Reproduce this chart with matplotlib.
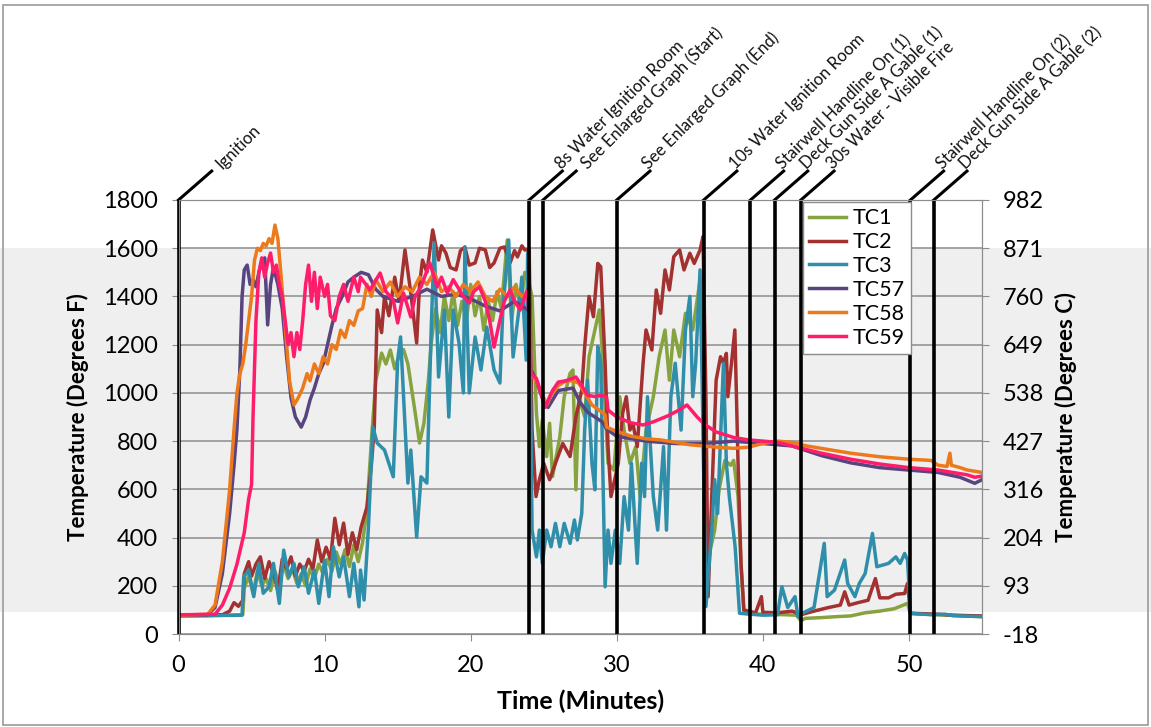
import matplotlib
matplotlib.use('Agg')
import matplotlib.pyplot as plt
import matplotlib.transforms as mtransforms
from matplotlib.patches import Rectangle

plt.rcParams['font.family'] = ['Lato', 'DejaVu Sans']

# ---- data (time in minutes, temperature in deg F) ----
t_tc1 = [0, 2, 4.4, 4.5, 4.8, 5.1, 5.4, 5.7, 6.0, 6.3, 6.6, 6.9, 7.2, 7.5, 7.8, 8.1, 8.4, 8.7, 9.0, 9.3,
         9.6, 9.9, 10.2, 10.5, 10.8, 11.1, 11.4, 11.7, 12.0, 12.3, 12.6, 12.9, 13.2, 13.5, 13.9, 14.2, 14.5,
         14.8, 15.0, 15.4, 15.7, 16.1, 16.5, 16.8, 17.1, 17.3, 17.6, 17.9, 18.2, 18.5, 18.8, 19.1, 19.4,
         19.7, 20.0, 20.3, 20.6, 20.9, 21.2, 21.5, 21.8, 22.1, 22.5, 22.8, 23.1, 23.4, 23.7, 24.0, 24.2,
         24.5, 24.7, 24.9, 25.2, 25.4, 25.6, 26.1, 26.4, 26.8, 27.0, 27.2, 27.4, 27.8, 28.1, 28.5, 28.8,
         29.0, 29.4, 29.8, 30.2, 30.5, 30.9, 31.3, 31.6, 32.0, 32.5, 32.9, 33.3, 33.6, 33.9, 34.3, 34.7,
         35.2, 35.7, 35.9, 36.0, 36.4, 36.7, 37.0, 37.4, 37.8, 38.0, 38.3, 38.5, 38.7, 40, 41.5, 42.3,
         42.6, 42.9, 44, 45, 46, 47, 48, 49, 49.9, 50.1, 52, 54, 55]
v_tc1 = [75, 76, 80, 190, 240, 170, 260, 200, 230, 180, 260, 200, 290, 230, 270, 210, 250, 200, 270, 230,
         290, 250, 310, 260, 340, 290, 350, 280, 370, 300, 380, 520, 800, 1050, 1165, 1120, 1178,
         1100, 1136, 1180, 1120, 958, 792, 875, 1050, 1207, 1350, 1250, 1400, 1300, 1420, 1280, 1380,
         1300, 1450, 1320, 1400, 1260, 1380, 1300, 1420, 1350, 1634, 1300, 1450, 1350, 1500, 1450, 1400,
         915, 777, 887, 736, 874, 653, 818, 984, 1081, 1095, 598, 984, 901, 1150, 1261, 1344,
         1178, 708, 680, 984, 846, 708, 777, 570, 846, 984, 1150, 1261, 1053, 1261, 1150, 1330,
         1261, 1468, 1053, 224, 350, 431, 600, 720, 700, 720, 570, 293, 86, 82, 80, 78,
         55, 65, 68, 72, 75, 88, 95, 105, 127, 85, 80, 75, 72]

t_tc2 = [0, 3.0, 3.5, 3.8, 4.1, 4.4, 4.5, 4.8, 5.0, 5.3, 5.6, 5.9, 6.2, 6.5, 6.8, 7.1, 7.4, 7.7, 8.0, 8.3,
         8.6, 8.9, 9.2, 9.5, 9.8, 10.1, 10.4, 10.7, 11.0, 11.3, 11.6, 11.9, 12.2, 12.5, 12.9, 13.2, 13.4,
         13.6, 13.9, 14.1, 14.4, 14.8, 15.1, 15.5, 15.9, 16.3, 16.5, 16.7, 17.0, 17.4, 17.8, 18.0, 18.3,
         18.6, 19.0, 19.3, 19.6, 19.9, 20.3, 20.6, 21.0, 21.3, 21.6, 22.0, 22.3, 22.7, 23.0, 23.2, 23.5,
         23.7, 24.0, 24.2, 24.47, 24.7, 25.0, 25.4, 25.8, 26.3, 26.8, 27.2, 27.6, 27.8, 28.1, 28.4, 28.7,
         28.9, 29.2, 29.4, 29.6, 30.1, 30.4, 30.65, 30.9, 31.1, 31.4, 31.8, 32.0, 32.4, 32.7, 33.0, 33.3,
         33.6, 33.9, 34.3, 34.6, 35.0, 35.3, 35.7, 35.9, 36.1, 36.25, 36.5, 36.8, 37.1, 37.3, 37.5, 37.6,
         37.85, 38.08, 38.3, 38.5, 38.7, 39.5, 39.9, 40.0, 41, 42, 42.6, 43.5, 44.5, 45.3, 45.6, 45.9,
         46.5, 47.2, 47.7, 48.0, 48.6, 49.1, 49.7, 49.9, 50.1, 52, 53, 55]
v_tc2 = [78, 80, 95, 130, 115, 140, 250, 300, 240, 290, 320, 230, 300, 250, 180, 310, 270, 320, 240, 290,
         260, 310, 270, 390, 300, 360, 310, 480, 370, 460, 330, 420, 350, 444, 527, 700, 858,
         1344, 1250, 1400, 1320, 1480, 1380, 1593, 1414, 1207, 1450, 1551, 1500, 1676, 1551, 1610, 1580,
         1520, 1510, 1590, 1605, 1530, 1539, 1600, 1593, 1520, 1539, 1600, 1605, 1540, 1590, 1564, 1610,
         1593, 1593, 846, 570, 640, 708, 640, 708, 790, 736, 900, 1011, 1191, 1400, 1316, 1537,
         1523, 1123, 777, 570, 708, 915, 984, 846, 874, 777, 1123, 1261, 1178, 1427, 1330, 1510,
         1427, 1565, 1593, 1510, 1579, 1537, 1593, 1648, 984, 155, 570, 1053, 1150, 1123, 1164, 984,
         1123, 1261, 708, 293, 100, 88, 155, 90, 88, 95, 80, 95, 110, 120, 175, 120,
         130, 140, 230, 150, 150, 165, 168, 210, 86, 82, 78, 75]

t_tc3 = [0, 4.35, 4.46, 4.8, 5.15, 5.5, 5.8, 6.2, 6.5, 6.9, 7.2, 7.55, 7.9, 8.2, 8.6, 8.9, 9.3, 9.6, 10.0,
         10.3, 10.6, 11.0, 11.3, 11.7, 12.0, 12.35, 12.46, 12.7, 13.0, 13.3, 13.6, 14.1, 14.7, 15.0, 15.2,
         15.7, 15.9, 16.3, 16.6, 17.0, 17.3, 17.5, 17.8, 18.2, 18.5, 18.8, 19.2, 19.5, 19.6, 19.9, 20.3,
         20.7, 21.1, 21.6, 22.0, 22.2, 22.6, 22.9, 23.3, 23.5, 23.8, 23.9, 24.1, 24.2, 24.5, 24.7, 24.9,
         25.2, 25.5, 25.8, 26.1, 26.4, 26.8, 27.1, 27.3, 27.6, 27.8, 28.0, 28.3, 28.5, 28.7, 28.9, 29.2,
         29.4, 29.6, 29.9, 30.2, 30.5, 30.8, 31.0, 31.2, 31.4, 31.7, 31.9, 32.1, 32.5, 32.8, 33.2, 33.4,
         33.7, 34.0, 34.4, 34.7, 35.0, 35.2, 35.4, 35.7, 35.9, 36.1, 36.5, 36.7, 36.9, 37.3, 37.5, 37.7,
         38.1, 38.4, 40.0, 41.0, 41.3, 41.7, 42.2, 42.4, 42.7, 43.5, 44.2, 44.4, 44.9, 45.6, 45.8, 46.3,
         46.6, 47.0, 47.5, 47.8, 48.6, 49.1, 49.4, 49.7, 49.9, 50.1, 51.5, 52.5, 53.0, 54.0, 55]
v_tc3 = [75, 78, 237, 265, 155, 293, 169, 196, 293, 127, 348, 237, 293, 196, 279, 169, 265, 127, 307,
         155, 362, 237, 320, 155, 293, 113, 265, 141, 444, 858, 792, 763, 652, 1136, 1232,
         626, 763, 402, 652, 626, 1273, 1622, 1066, 1344, 900, 1344, 1207, 1000, 1605, 1000, 1232,
         1095, 1273, 1095, 1041, 1344, 1634, 1149, 1344, 1480, 1136, 1580, 984, 431, 320, 431, 293,
         431, 362, 459, 362, 459, 376, 473, 390, 500, 846, 1053, 708, 598, 1192, 1123, 196,
         431, 293, 431, 293, 570, 431, 708, 500, 293, 708, 570, 984, 570, 431, 777, 431,
         984, 1123, 846, 1261, 1400, 984, 1123, 1510, 846, 114, 431, 640, 500, 1123, 708, 570,
         362, 86, 78, 80, 196, 110, 155, 72, 86, 110, 376, 155, 182, 307, 210, 155,
         210, 251, 417, 279, 293, 320, 293, 334, 307, 86, 80, 82, 76, 74, 72]

t_tc57 = [0, 2.0, 2.5, 3.0, 3.5, 3.8, 4.0, 4.2, 4.35, 4.5, 4.7, 4.9, 5.1, 5.3, 5.5, 5.7, 5.9, 6.1, 6.3, 6.5,
          6.8, 7.1, 7.4, 7.7, 8.0, 8.4, 8.7, 9.0, 9.3, 9.6, 9.9, 10.2, 10.5, 10.8, 11.2, 11.6, 12.0, 12.5,
          13, 13.5, 14, 15, 16, 17, 18, 19, 20, 21, 22, 23, 24, 24.1, 24.5, 25, 25.3, 26, 27, 27.5, 28, 28.5,
          29, 29.3, 30, 32, 34, 36, 38, 40, 42, 44, 46, 48, 50, 52, 53.5, 54.5, 55]
v_tc57 = [78, 80, 110, 250, 500, 700, 850, 1100, 1400, 1510, 1530, 1450, 1470, 1440, 1500, 1540, 1560, 1282,
          1450, 1520, 1450, 1350, 1150, 980, 900, 858, 900, 970, 1020, 1080, 1120, 1200, 1280, 1350, 1400,
          1460, 1480, 1500, 1490, 1430, 1400, 1380, 1400, 1430, 1400, 1410, 1390, 1360, 1340, 1380, 1340,
          1100, 1050, 960, 940, 1010, 1020, 960, 920, 900, 880, 850, 820, 800, 790, 790, 800, 790, 780,
          740, 710, 690, 680, 670, 650, 625, 640]

t_tc58 = [0, 2.0, 2.5, 3.0, 3.5, 3.8, 4.0, 4.2, 4.4, 4.6, 4.8, 5.0, 5.2, 5.4, 5.6, 5.8, 6.0, 6.2, 6.4, 6.6,
          6.8, 7.0, 7.2, 7.4, 7.6, 7.9, 8.2, 8.5, 8.8, 9.0, 9.3, 9.6, 9.9, 10.2, 10.5, 10.8, 11.1, 11.4,
          11.7, 12.0, 12.3, 12.6, 12.9, 13.2, 13.5, 14, 14.5, 15, 15.5, 16, 16.5, 17, 17.5, 18, 18.5, 19,
          19.5, 20, 20.5, 21, 21.5, 22, 22.5, 23, 23.5, 24, 24.1, 24.5, 25, 25.2, 25.5, 26, 26.5, 27, 27.4,
          27.8, 28.3, 29.2, 29.3, 30, 31, 32, 33, 34, 35, 36.6, 38, 39, 40, 41, 42, 43, 44, 46, 48, 50,
          51.5, 52.0, 52.6, 52.8, 52.9, 53.5, 54, 55]
v_tc58 = [78, 82, 120, 300, 600, 850, 1000, 1080, 1120, 1200, 1300, 1400, 1550, 1600, 1590, 1620, 1610, 1640,
          1620, 1696, 1640, 1500, 1350, 1200, 1050, 950, 980, 1020, 1080, 1050, 1120, 1080, 1150, 1120,
          1200, 1180, 1260, 1230, 1300, 1280, 1340, 1350, 1450, 1400, 1470, 1420, 1460, 1400, 1440, 1420,
          1480, 1450, 1500, 1420, 1440, 1400, 1450, 1420, 1460, 1400, 1380, 1430, 1400, 1440, 1400, 1420,
          1080, 1050, 980, 950, 990, 1030, 1050, 1050, 1040, 1000, 950, 910, 858, 840, 820, 810, 805,
          795, 785, 776, 770, 775, 790, 800, 795, 780, 770, 750, 735, 725, 720, 700, 695, 750, 700, 690,
          680, 670]

t_tc59 = [0, 2.5, 3.0, 3.5, 4.0, 4.5, 4.8, 5.0, 5.1, 5.3, 5.5, 5.7, 5.9, 6.1, 6.3, 6.5, 6.7, 6.9, 7.1, 7.3,
          7.5, 7.7, 7.9, 8.1, 8.3, 8.5, 8.7, 8.9, 9.1, 9.3, 9.5, 9.7, 10.0, 10.2, 10.4, 10.7, 11.0, 11.3,
          11.6, 12.0, 12.3, 12.46, 13.1, 13.8, 14.2, 14.7, 15.0, 15.4, 15.9, 16.2, 16.6, 17.2, 17.7, 18.0,
          18.4, 18.8, 19.1, 19.5, 19.9, 20.2, 20.6, 21.0, 21.3, 21.6, 22.0, 22.3, 22.7, 23.0, 23.4, 23.7,
          23.9, 24.0, 24.1, 24.5, 24.8, 25.1, 25.3, 25.6, 26.0, 26.5, 27.2, 27.6, 28.0, 28.5, 29.0, 29.3,
          29.4, 30, 31, 31.8, 32.5, 33.5, 34.3, 34.8, 35.5, 36.0, 36.8, 38, 39, 40, 41, 42, 44, 46, 48, 50,
          52, 53, 54, 54.5, 55]
v_tc59 = [80, 82, 120, 190, 290, 420, 560, 620, 900, 1300, 1500, 1560, 1480, 1540, 1580, 1500, 1530, 1450,
          1400, 1300, 1200, 1250, 1150, 1250, 1180, 1300, 1450, 1530, 1380, 1500, 1350, 1480, 1400, 1450,
          1320, 1300, 1400, 1450, 1380, 1480, 1420, 1480, 1427, 1497, 1420, 1385, 1290, 1414, 1315, 1400,
          1440, 1539, 1440, 1480, 1414, 1470, 1440, 1400, 1373, 1420, 1440, 1380, 1300, 1190, 1302, 1380,
          1427, 1380, 1344, 1400, 1427, 1300, 1080, 1060, 1000, 940, 970, 1010, 1045, 1050, 1066, 1030,
          990, 985, 990, 983, 929, 900, 875, 867, 880, 905, 930, 950, 900, 870, 838, 815, 805, 800, 795,
          780, 750, 725, 705, 690, 680, 670, 660, 650, 655]

series_names = ['TC1', 'TC2', 'TC3', 'TC57', 'TC58', 'TC59']
series_t = [t_tc1, t_tc2, t_tc3, t_tc57, t_tc58, t_tc59]
series_v = [v_tc1, v_tc2, v_tc3, v_tc57, v_tc58, v_tc59]
series_colors = ['#86A33F', '#A3312F', '#2F8EAA', '#58457F', '#EC7A1C', '#FF1C6B']

event_times = [0, 24.0, 24.95, 30.0, 35.95, 39.15, 40.8, 42.6, 50.1, 51.7]
event_labels = ['Ignition', '8s Water Ignition Room', 'See Enlarged Graph (Start)',
                'See Enlarged Graph (End)', '10s Water Ignition Room', 'Stairwell Handline On (1)',
                'Deck Gun Side A Gable (1)', '30s Water - Visible Fire', 'Stairwell Handline On (2)',
                'Deck Gun Side A Gable (2)']
# sideways nudge (points) of each label from the end of its leader
event_nudge = [8, 0, 9, 0, 0, 0, 0, 0, 0, 0]

f_ticks = [0, 200, 400, 600, 800, 1000, 1200, 1400, 1600, 1800]
c_labels = ['-18', '93', '204', '316', '427', '538', '649', '760', '871', '982']

# ---- figure ----
fig = plt.figure(figsize=(11.51, 7.27), dpi=100)
ax = fig.add_axes([0.1551, 0.1279, 0.6981, 0.5970])
ax.set_facecolor('white')

# grey band across the whole picture
band_tr = mtransforms.blended_transform_factory(fig.transFigure, ax.transData)
band = Rectangle((0.0, 90), 1.0, 1510, transform=band_tr, facecolor='#efefef',
                 edgecolor='none', zorder=0, clip_on=False)
ax.add_patch(band)

# outer frame
fig.add_artist(Rectangle((0.003, 0.003), 0.994, 0.99, transform=fig.transFigure,
                         fill=False, edgecolor='#9a9a9a', lw=1.2))

for name, t, v, c in zip(series_names, series_t, series_v, series_colors):
    ax.plot(t, v, color=c, lw=2.5, label=name, zorder=2)

# event markers: vertical line, slanted leader and rotated label
for t, lbl, dx in zip(event_times, event_labels, event_nudge):
    ax.plot([t, t], [0, 1800], color='black', lw=2.6, zorder=4, clip_on=False,
            solid_capstyle='butt')
    ax.plot([t, t + 2.27], [1800, 1920], color='black', lw=2.2, zorder=4, clip_on=False)
    ax.annotate(lbl, xy=(t + 2.27, 1920), xytext=(1 + dx, -1), textcoords='offset points',
                rotation=45, rotation_mode='anchor', ha='left', va='bottom',
                fontsize=12, color='#111111', annotation_clip=False)

ax.set_xlim(0, 55)
ax.set_ylim(0, 1800)
ax.set_xticks([0, 10, 20, 30, 40, 50])
ax.set_yticks(f_ticks)
ax.yaxis.grid(True, color='#8c8c8c', lw=1.1)
ax.set_axisbelow(True)
ax.tick_params(axis='both', direction='out', length=5, color='#8c8c8c', labelsize=17, pad=10)
for s in ax.spines.values():
    s.set_color('#8c8c8c')

ax.set_xlabel('Time (Minutes)', fontsize=18, fontweight='bold', labelpad=10)
ax.set_ylabel('Temperature (Degrees F)', fontsize=16, fontweight='bold', labelpad=10)

ax2 = ax.twinx()
ax2.set_ylim(0, 1800)
ax2.set_yticks(f_ticks)
ax2.set_yticklabels(c_labels)
ax2.tick_params(axis='y', direction='out', length=5, color='#8c8c8c', labelsize=17, pad=10)
for s in ax2.spines.values():
    s.set_color('#8c8c8c')
ax2.set_ylabel('Temperature (Degrees C)', fontsize=16, fontweight='bold', labelpad=8)

leg = ax.legend(loc='upper left', bbox_to_anchor=(0.777, 0.996), fontsize=15.5, frameon=True,
                fancybox=False, edgecolor='#8c8c8c', framealpha=1, handlelength=1.7,
                handletextpad=0.3, labelspacing=0.18, borderpad=0.3, borderaxespad=0)
leg.get_frame().set_linewidth(1.0)
leg.set_zorder(6)

fig.savefig('out.png', dpi=100)
